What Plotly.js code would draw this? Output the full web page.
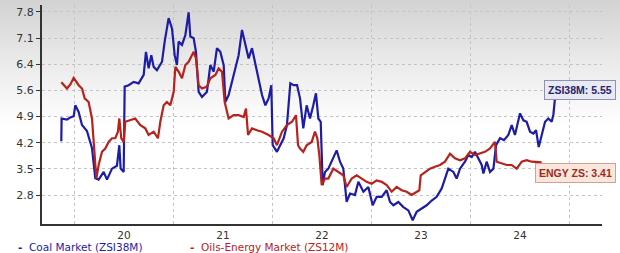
<!DOCTYPE html>
<html><head><meta charset="utf-8">
<script src="https://cdn.plot.ly/plotly-3.0.1.min.js"></script>
<style>
html,body{margin:0;padding:0;}
body{width:620px;height:253px;overflow:hidden;background:linear-gradient(to bottom,#d2d2d2 0%,#e8e8e8 22%,#ffffff 50%,#ffffff 100%);}
#chart{width:620px;height:253px;}
</style></head>
<body><div id="chart"></div>
<script>
const coalYears = [2019.367,2019.370,2019.424,2019.458,2019.492,2019.508,2019.542,2019.576,2019.626,2019.677,2019.710,2019.744,2019.795,2019.828,2019.879,2019.929,2019.953,2019.966,2019.997,2020.007,2020.047,2020.098,2020.148,2020.199,2020.222,2020.249,2020.276,2020.300,2020.333,2020.384,2020.411,2020.451,2020.485,2020.512,2020.535,2020.552,2020.586,2020.620,2020.653,2020.670,2020.704,2020.727,2020.754,2020.788,2020.838,2020.872,2020.906,2020.939,2020.973,2021.007,2021.024,2021.057,2021.108,2021.158,2021.192,2021.226,2021.259,2021.293,2021.327,2021.360,2021.394,2021.428,2021.461,2021.488,2021.502,2021.545,2021.579,2021.613,2021.646,2021.680,2021.714,2021.748,2021.778,2021.811,2021.845,2021.879,2021.912,2021.939,2021.963,2021.987,2022.007,2022.030,2022.064,2022.098,2022.148,2022.182,2022.215,2022.249,2022.283,2022.333,2022.367,2022.418,2022.468,2022.512,2022.552,2022.603,2022.653,2022.687,2022.721,2022.771,2022.822,2022.872,2022.916,2022.956,2023.007,2023.057,2023.108,2023.158,2023.209,2023.242,2023.276,2023.327,2023.360,2023.394,2023.444,2023.478,2023.512,2023.545,2023.579,2023.613,2023.630,2023.663,2023.697,2023.731,2023.758,2023.798,2023.838,2023.882,2023.916,2023.949,2024.000,2024.034,2024.067,2024.101,2024.135,2024.162,2024.189,2024.219,2024.253,2024.286,2024.320,2024.337,2024.354,2024.357];
const coalValues = [4.27,4.89,4.86,4.92,4.95,5.25,5.07,4.71,4.55,4.08,3.26,3.22,3.43,3.22,3.52,3.60,4.16,3.52,3.43,5.76,5.80,5.89,5.85,6.08,6.71,6.26,6.62,6.30,6.21,6.44,6.99,7.63,7.35,6.62,6.35,6.99,6.90,7.17,7.79,7.13,7.08,6.71,5.62,5.48,5.62,6.35,6.17,6.81,6.71,6.35,5.34,5.53,6.08,6.62,7.31,6.90,6.53,6.81,6.35,5.99,5.53,5.25,5.44,5.80,4.16,3.98,4.16,4.35,4.71,5.85,5.80,5.80,5.44,4.62,5.25,4.89,5.25,5.58,4.89,4.80,3.07,3.43,3.52,3.71,4.02,3.71,3.52,2.61,2.84,2.80,3.16,2.89,3.02,2.52,2.75,2.75,2.93,2.61,2.52,2.61,2.47,2.38,2.11,2.34,2.43,2.52,2.65,2.75,2.98,3.25,3.52,3.43,3.25,3.52,3.71,3.89,3.84,3.98,3.80,3.62,3.39,3.71,3.43,3.52,4.16,4.35,4.30,4.44,4.71,4.44,5.03,4.84,4.80,4.53,4.48,4.57,4.11,4.44,4.80,4.89,4.80,5.00,5.34,5.55];
const energyYears = [2019.367,2019.424,2019.458,2019.492,2019.542,2019.576,2019.603,2019.643,2019.677,2019.694,2019.721,2019.744,2019.778,2019.811,2019.845,2019.879,2019.912,2019.939,2019.953,2019.973,2019.997,2020.013,2020.064,2020.114,2020.165,2020.215,2020.249,2020.300,2020.343,2020.367,2020.401,2020.434,2020.468,2020.502,2020.519,2020.552,2020.586,2020.620,2020.653,2020.704,2020.727,2020.754,2020.788,2020.838,2020.872,2020.923,2020.956,2020.990,2021.017,2021.057,2021.108,2021.158,2021.209,2021.232,2021.253,2021.293,2021.343,2021.394,2021.461,2021.512,2021.545,2021.596,2021.646,2021.697,2021.737,2021.758,2021.778,2021.811,2021.845,2021.896,2021.929,2021.953,2021.973,2021.997,2022.030,2022.064,2022.114,2022.165,2022.215,2022.249,2022.300,2022.350,2022.401,2022.451,2022.502,2022.552,2022.603,2022.653,2022.704,2022.754,2022.805,2022.855,2022.906,2022.956,2022.983,2022.997,2023.040,2023.091,2023.141,2023.192,2023.242,2023.293,2023.343,2023.394,2023.444,2023.495,2023.545,2023.596,2023.646,2023.697,2023.747,2023.764,2023.815,2023.865,2023.916,2023.966,2024.017,2024.067,2024.118,2024.168,2024.219];
const energyValues = [5.88,5.71,5.82,6.00,5.80,5.71,5.44,5.34,4.89,4.16,3.25,3.62,3.98,4.07,4.25,4.35,4.35,4.53,4.89,4.35,4.25,4.80,4.84,4.89,4.71,4.62,4.44,4.53,4.35,4.80,5.25,5.34,5.25,5.62,6.30,6.17,5.99,6.35,6.44,6.71,6.53,5.80,5.71,5.76,5.99,6.08,6.26,6.17,5.34,4.89,4.98,4.98,4.93,5.16,4.44,4.62,4.57,4.53,4.44,4.35,4.16,4.53,4.71,4.80,4.98,4.16,4.07,3.98,4.16,4.25,4.53,4.35,3.89,3.07,3.25,3.25,3.52,3.43,3.34,3.02,3.25,3.34,3.25,3.16,3.11,3.20,3.16,3.07,2.89,3.02,2.93,2.89,2.80,2.89,2.93,3.34,3.43,3.52,3.57,3.62,3.71,3.93,3.80,3.75,3.80,3.98,3.89,3.93,3.98,4.07,4.25,3.71,3.66,3.62,3.62,3.52,3.71,3.75,3.71,3.71,3.69];
const yTickVals = [2.8,3.5143,4.2286,4.9429,5.6571,6.3714,7.0857,7.8];
const yTickText = ['2.8','3.5','4.2','4.9','5.6','6.4','7.1','7.8'];
const xTickVals = [2020,2021,2022,2023,2024];
const xTickText = ['20','21','22','23','24'];
const coalName = 'Coal Market (ZSI38M)';
const energyName = 'Oils-Energy Market (ZS12M)';
const coalLabel = 'ZSI38M: 5.55';
const energyLabel = 'ENGY ZS: 3.41';

const blue = '#1c1ca6';
const red = '#b5231c';

const data = [
  {x: coalYears, y: coalValues, type:'scatter', mode:'lines', line:{color:blue, width:2.2}, name:coalName, hoverinfo:'skip'},
  {x: energyYears, y: energyValues, type:'scatter', mode:'lines', line:{color:red, width:2.2}, name:energyName, hoverinfo:'skip'}
];

const layout = {
  width:620, height:253,
  margin:{l:42, r:18, t:5, b:29},
  paper_bgcolor:'rgba(0,0,0,0)', plot_bgcolor:'rgba(0,0,0,0)',
  font:{family:'DejaVu Sans, Verdana, sans-serif', size:11, color:'#333'},
  showlegend:false,
  xaxis:{
    range:[2019.172, 2024.828], tickmode:'array', tickvals:xTickVals, ticktext:xTickText,
    showgrid:false, zeroline:false, showline:true, linecolor:'#333', linewidth:2, ticks:'',
    tickfont:{size:10.5, color:'#333'}, ticklabelstandoff:0,
    minor:{tick0:2019.5, dtick:1, showgrid:true, gridcolor:'#c4c4c4', griddash:'dot', gridwidth:1, ticks:''}
  },
  yaxis:{
    range:[2.008, 7.99], tickmode:'array', tickvals:yTickVals, ticktext:yTickText,
    showgrid:true, gridcolor:'#c4c4c4', griddash:'dot', gridwidth:1, zeroline:false,
    showline:true, linecolor:'#333', linewidth:2, ticks:'outside', ticklen:4, tickcolor:'#333', tickwidth:1,
    tickfont:{size:11, color:'#333'}
  },
  annotations:[
    {xref:'x', yref:'y', x:2024.24, y:5.68, xanchor:'left', yanchor:'middle', showarrow:false,
     text:'<b>'+coalLabel+'</b>', font:{family:'Liberation Sans, Arial, sans-serif', size:10.5, color:'#25256e'}, bgcolor:'#e8e9f3', bordercolor:'#8d90b8', borderwidth:1, borderpad:3},
    {xref:'x', yref:'y', x:2024.15, y:3.41, xanchor:'left', yanchor:'middle', showarrow:false,
     text:'<b>'+energyLabel+'</b>', font:{family:'Liberation Sans, Arial, sans-serif', size:10.5, color:'#9c2b1e'}, bgcolor:'#f9e6dc', bordercolor:'#d6a08c', borderwidth:1, borderpad:3},
    {xref:'paper', yref:'paper', x:-0.044, y:-0.072, xanchor:'left', yanchor:'top', showarrow:false, borderpad:0,
     text:'<b>-</b>  '+coalName, font:{size:10.5, color:blue}},
    {xref:'paper', yref:'paper', x:0.262, y:-0.072, xanchor:'left', yanchor:'top', showarrow:false, borderpad:0,
     text:'<b>-</b>  '+energyName, font:{size:10.5, color:red}}
  ]
};
Plotly.newPlot('chart', data, layout, {displayModeBar:false, staticPlot:true});
</script></body></html>
